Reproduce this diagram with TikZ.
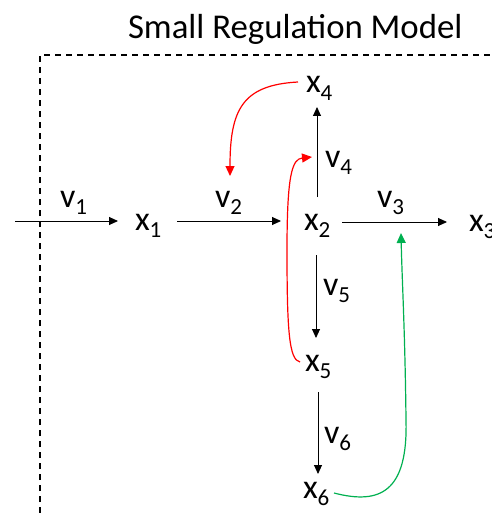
\documentclass[tikz,border=0pt]{standalone}
\usepackage{fontspec}
\setmainfont{Carlito}
\usetikzlibrary{arrows.meta}
\newcommand{\vsym}[2]{{\fontsize{34}{34}\selectfont #1\raisebox{-7.5pt}{\fontsize{23}{23}\selectfont #2}}}
\begin{document}
\begin{tikzpicture}[x=1pt,y=-1pt,
  lbl/.style={anchor=base west,inner sep=0pt,outer sep=0pt},
  flow/.style={line width=0.9pt,-{Triangle[length=9pt,width=8pt]}},
  redreg/.style={red,line width=1.2pt,-{Triangle[length=10pt,width=9pt]}},
  greenreg/.style={color={rgb,255:red,0;green,176;blue,80},line width=1.2pt,-{Triangle[length=10pt,width=9pt]}},
  frame/.style={line width=1.4pt,dash pattern=on 6pt off 5pt}]
\useasboundingbox (0,0) rectangle (491,513);
% title
\node[lbl] (title) at (128,39) {\fontsize{34.8}{34.8}\selectfont Small Regulation Model};
% frame
\coordinate (fb) at (40,513);
\coordinate (fc) at (40,55);
\coordinate (fr) at (491,55);
\draw[frame] (fb) -- (fc) -- (fr);
% species
\node[lbl] (x1) at (135,230) {\vsym{x}{1}};
\node[lbl] (x2) at (304,230) {\vsym{x}{2}};
\node[lbl] (x3) at (469,231) {\vsym{x}{3}};
\node[lbl] (x4) at (306,93) {\vsym{x}{4}};
\node[lbl] (x5) at (305,371) {\vsym{x}{5}};
\node[lbl] (x6) at (303,498) {\vsym{x}{6}};
% reaction labels
\node[lbl] (v1) at (60,207) {\vsym{v}{1}};
\node[lbl] (v2) at (215,207) {\vsym{v}{2}};
\node[lbl] (v3) at (377,207) {\vsym{v}{3}};
\node[lbl] (v4) at (325,167) {\vsym{v}{4}};
\node[lbl] (v5) at (323,295) {\vsym{v}{5}};
\node[lbl] (v6) at (324,443) {\vsym{v}{6}};
% arrow end points
\coordinate (a1s) at (15,221);  \coordinate (a1e) at (118,221);
\coordinate (a2s) at (177,221); \coordinate (a2e) at (281,221);
\coordinate (a3s) at (342,222); \coordinate (a3e) at (447,222);
\coordinate (a4s) at (317,197); \coordinate (a4e) at (317,107);
\coordinate (a5s) at (316,255); \coordinate (a5e) at (316,338);
\coordinate (a6s) at (318,392); \coordinate (a6e) at (318,474);
\draw[flow] (a1s) -- (a1e);
\draw[flow] (a2s) -- (a2e);
\draw[flow] (a3s) -- (a3e);
\draw[flow] (a4s) -- (a4e);
\draw[flow] (a5s) -- (a5e);
\draw[flow] (a6s) -- (a6e);
% regulation curves
\coordinate (r1s) at (298,82);  \coordinate (r1e) at (230,176);
\coordinate (r2s) at (300,362); \coordinate (r2m) at (287,250); \coordinate (r2e) at (312,157);
\coordinate (g1s) at (334,493); \coordinate (g1m) at (406,420); \coordinate (g1e) at (401,233);
\draw[redreg] (r1s) .. controls (242,85) and (230,110) .. (r1e);
\draw[redreg] (r2s) .. controls (289,360) and (287,330) .. (r2m)
  .. controls (287,175) and (292,159) .. (r2e);
\draw[greenreg] (g1s) .. controls (380,505) and (408,492) .. (g1m)
  .. controls (405,330) and (402,280) .. (g1e);
\end{tikzpicture}
\end{document}
